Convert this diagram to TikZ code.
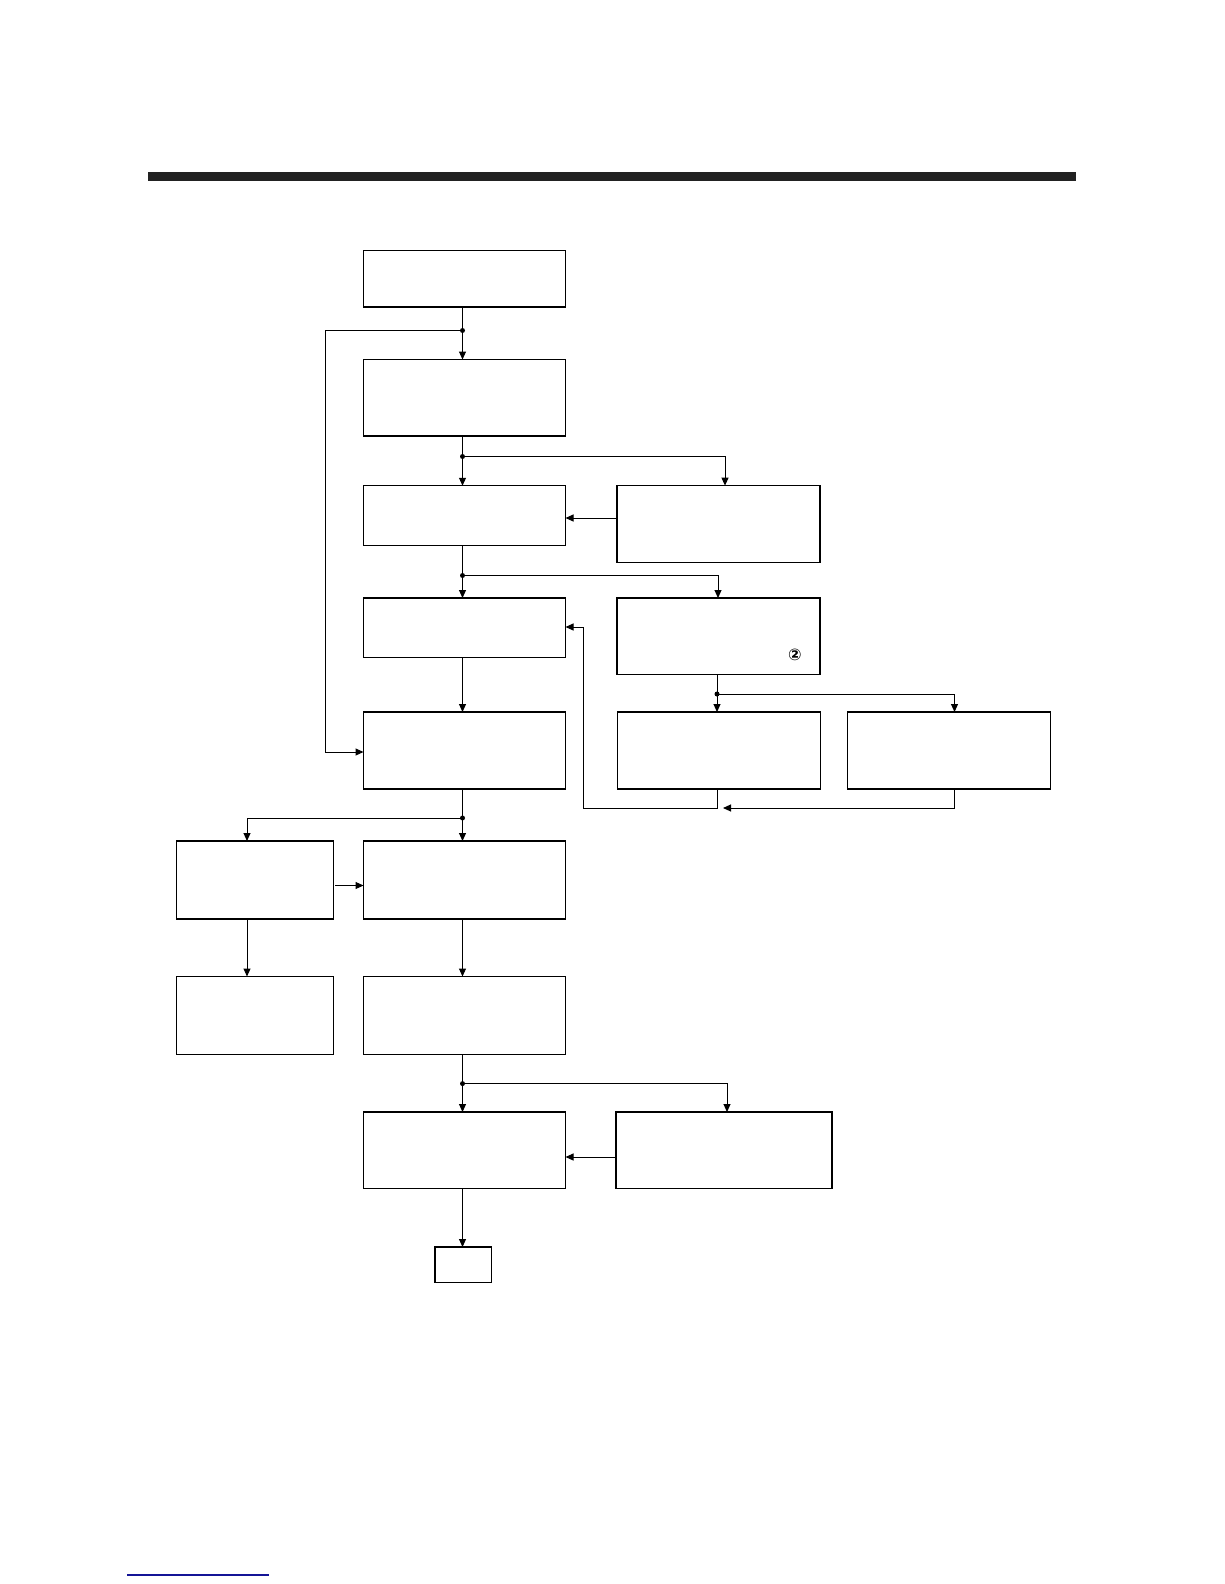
\documentclass[tikz,border=0pt]{standalone}
\usepackage{fontspec}
\usetikzlibrary{arrows.meta,calc}
\newfontfamily\dejavu{DejaVu Sans}
\definecolor{barcol}{RGB}{34,34,34}
\definecolor{linkblue}{RGB}{20,20,150}
\begin{document}
\begin{tikzpicture}[x=1pt,y=-1pt,
  box/.style={draw, line width=1.3pt, inner sep=0pt, outer sep=0pt, minimum width=202pt},
  conn/.style={line width=1pt},
  arr/.style={conn, -{Triangle[length=8pt,width=7pt]}},
  jdot/.style={circle, fill, inner sep=0pt, minimum size=5pt}]
\useasboundingbox (0,0) rectangle (1224,1584);
% title bar and link line
\fill[barcol] (148,172) rectangle (1075.5,181);
\draw[linkblue, line width=1.3pt] (127,1575) -- (269,1575);
% boxes
\node[box, minimum height=56.5pt] (A) at (464.5,278.75) {};
\node[box, minimum height=76.5pt] (B) at (464.5,397.75) {};
\node[box, minimum height=59.5pt] (C) at (464.5,515.5) {};
\node[box, minimum width=203pt, minimum height=76.7pt] (D) at (718.5,524) {};
\node[box, minimum height=59.5pt] (F) at (464.5,627.75) {};
\node[box, minimum width=203pt, minimum height=76.6pt] (E) at (718.5,636.3) {};
\node[box, minimum height=77pt] (G) at (464.5,750.5) {};
\node[box, minimum width=203pt, minimum height=77pt] (H) at (718.8,750.5) {};
\node[box, minimum width=203.4pt, minimum height=77pt] (I) at (949,750.5) {};
\node[box, minimum width=157pt, minimum height=78pt] (J) at (255,880) {};
\node[box, minimum height=78pt] (K) at (464.5,880) {};
\node[box, minimum width=157pt, minimum height=77.8pt] (L) at (255,1015.4) {};
\node[box, minimum height=77.8pt] (M) at (464.5,1015.4) {};
\node[box, minimum height=76.6pt] (N) at (464.5,1150.3) {};
\node[box, minimum width=216pt, minimum height=76.6pt] (O) at (724,1150.3) {};
\node[box, minimum width=56.8pt, minimum height=35.5pt] (P) at (463.4,1264.75) {};
\node[font=\dejavu\bfseries\fontsize{16}{16}\selectfont, inner sep=0pt] (c2) at (795,655) {②};
% junction coordinates
\coordinate (j1) at (462.5,330.5);
\coordinate (j2) at (462.5,456.5);
\coordinate (j3) at (462.5,575.5);
\coordinate (j4) at (717,694);
\coordinate (j5) at (462.5,818);
\coordinate (j6) at (462.5,1083.6);
\coordinate (xD) at (725,456.5);
\coordinate (xE) at (718,575.5);
\coordinate (xI) at (954.5,694);
\coordinate (xJ) at (247,818);
\coordinate (xO) at (727,1083.6);
\coordinate (loopTop) at (325,330.5);
\coordinate (loopBot) at (325,752);
\coordinate (rH1) at (717,808.5);
\coordinate (rH2) at (583.5,808.5);
\coordinate (rH3) at (583.5,627);
\coordinate (rI1) at (954.5,808);
\coordinate (rI2) at (723,808);
% connectors
\draw[conn] (A.south -| j1) -- (j1);
\draw[arr] (j1) -- (B.north -| j1);
\draw[arr] (j1) -- (loopTop) -- (loopBot) -- (G.west |- loopBot);
\draw[conn] (B.south -| j2) -- (j2);
\draw[arr] (j2) -- (C.north -| j2);
\draw[arr] (j2) -- (xD) -- (D.north -| xD);
\draw[arr] (D.west |- 0,518) -- (C.east |- 0,518);
\draw[conn] (C.south -| j3) -- (j3);
\draw[arr] (j3) -- (F.north -| j3);
\draw[arr] (j3) -- (xE) -- (E.north -| xE);
\draw[arr] (F.south -| j3) -- (G.north -| j3);
\draw[conn] (E.south -| j4) -- (j4);
\draw[arr] (j4) -- (H.north -| j4);
\draw[arr] (j4) -- (xI) -- (I.north -| xI);
\draw[arr] (H.south -| rH1) -- (rH1) -- (rH2) -- (rH3) -- (F.east |- rH3);
\draw[arr] (I.south -| rI1) -- (rI1) -- (rI2);
\draw[conn] (G.south -| j5) -- (j5);
\draw[arr] (j5) -- (K.north -| j5);
\draw[arr] (j5) -- (xJ) -- (J.north -| xJ);
\draw[arr] ($(J.east |- 0,885.5)+(1.5,0)$) -- (K.west |- 0,885.5);
\draw[arr] (J.south -| xJ) -- (L.north -| xJ);
\draw[arr] (K.south -| j5) -- (M.north -| j5);
\draw[conn] (M.south -| j6) -- (j6);
\draw[arr] (j6) -- (N.north -| j6);
\draw[arr] (j6) -- (xO) -- (O.north -| xO);
\draw[arr] (O.west |- 0,1157) -- (N.east |- 0,1157);
\draw[arr] (N.south -| j6) -- (P.north -| j6);
% junction dots
\foreach \j in {j1,j2,j3,j4,j5,j6} \node[jdot] at (\j) {};
\end{tikzpicture}
\end{document}
